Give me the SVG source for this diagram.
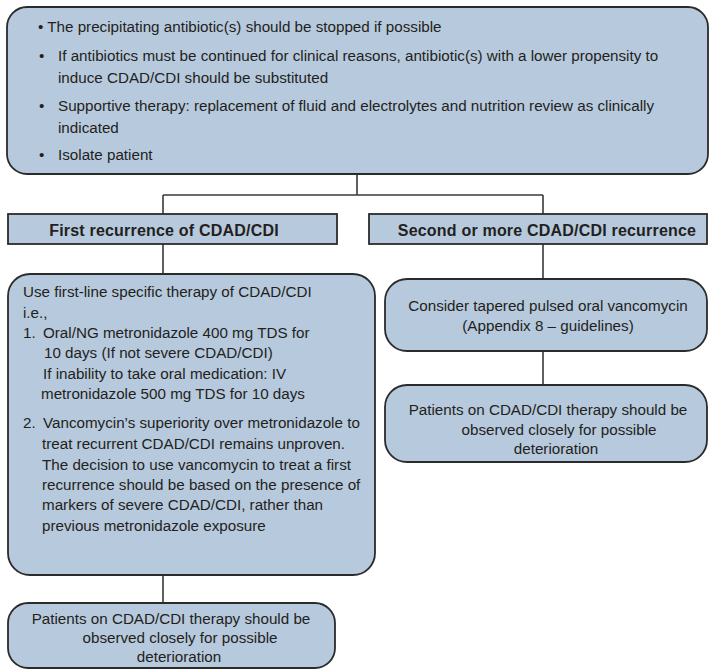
<svg xmlns="http://www.w3.org/2000/svg" width="709" height="670" viewBox="0 0 709 670">
<style>
.box{fill:#b7c9dd;stroke:#2b2b2b;stroke-width:1.8}
.t{font-family:"Liberation Sans",Arial,sans-serif;font-size:15.2px;fill:#231f20}
.h{font-weight:bold;font-size:16px;letter-spacing:0.2px}
.c{text-anchor:middle}
.ln{stroke:#3a3a3a;stroke-width:1.6;fill:none}
</style>
<rect width="709" height="670" fill="#ffffff"/>
<g id="connectors">
<path class="ln" d="M357 174V195M163 195H543M163 195V214M543 195V214M163 244V274M163 575V603M543 244V279M543 351V385"/>
</g>
<g id="general">
<rect class="box" x="7" y="7" width="701" height="167" rx="20"/>
<text class="t" x="38" y="32">• The precipitating antibiotic(s) should be stopped if possible</text>
<text class="t" x="39" y="61">•</text>
<text class="t" x="58" y="61">If antibiotics must be continued for clinical reasons, antibiotic(s) with a lower propensity to</text>
<text class="t" x="58" y="83">induce CDAD/CDI should be substituted</text>
<text class="t" x="39" y="111">•</text>
<text class="t" x="58" y="111">Supportive therapy: replacement of fluid and electrolytes and nutrition review as clinically</text>
<text class="t" x="58" y="133">indicated</text>
<text class="t" x="39" y="160">•</text>
<text class="t" x="58" y="160">Isolate patient</text>
</g>
<g id="first-recurrence">
<rect class="box" x="8" y="214" width="329" height="30"/>
<text class="t h c" x="164" y="236">First recurrence of CDAD/CDI</text>
</g>
<g id="second-recurrence">
<rect class="box" x="369" y="214" width="338" height="30"/>
<text class="t h c" x="547" y="236">Second or more CDAD/CDI recurrence</text>
</g>
<g id="first-line-therapy">
<rect class="box" x="8" y="274" width="367" height="301" rx="22"/>
<text class="t" x="23" y="297">Use first-line specific therapy of CDAD/CDI</text>
<text class="t" x="23" y="318">i.e.,</text>
<text class="t" x="23" y="338">1.</text>
<text class="t" x="43" y="338">Oral/NG metronidazole 400 mg TDS for</text>
<text class="t" x="44" y="358">10 days (If not severe CDAD/CDI)</text>
<text class="t" x="43" y="379">If inability to take oral medication: IV</text>
<text class="t" x="41" y="399">metronidazole 500 mg TDS for 10 days</text>
<text class="t" x="23" y="428">2.</text>
<text class="t" x="43" y="428">Vancomycin’s superiority over metronidazole to</text>
<text class="t" x="42" y="449">treat recurrent CDAD/CDI remains unproven.</text>
<text class="t" x="42" y="470">The decision to use vancomycin to treat a first</text>
<text class="t" x="42" y="490">recurrence should be based on the presence of</text>
<text class="t" x="42" y="510">markers of severe CDAD/CDI, rather than</text>
<text class="t" x="42" y="531">previous metronidazole exposure</text>
</g>
<g id="observe-left">
<rect class="box" x="8" y="603" width="327" height="65" rx="20"/>
<text class="t c" x="171" y="624">Patients on CDAD/CDI therapy should be</text>
<text class="t c" x="180" y="643">observed closely for possible</text>
<text class="t c" x="179" y="662">deterioration</text>
</g>
<g id="tapered-vancomycin">
<rect class="box" x="385" y="279" width="322" height="72" rx="22"/>
<text class="t c" x="548" y="311">Consider tapered pulsed oral vancomycin</text>
<text class="t c" x="548" y="331">(Appendix 8 – guidelines)</text>
</g>
<g id="observe-right">
<rect class="box" x="385" y="385" width="322" height="77" rx="22"/>
<text class="t c" x="548" y="415">Patients on CDAD/CDI therapy should be</text>
<text class="t c" x="559" y="435">observed closely for possible</text>
<text class="t c" x="556" y="454">deterioration</text>
</g>
</svg>
